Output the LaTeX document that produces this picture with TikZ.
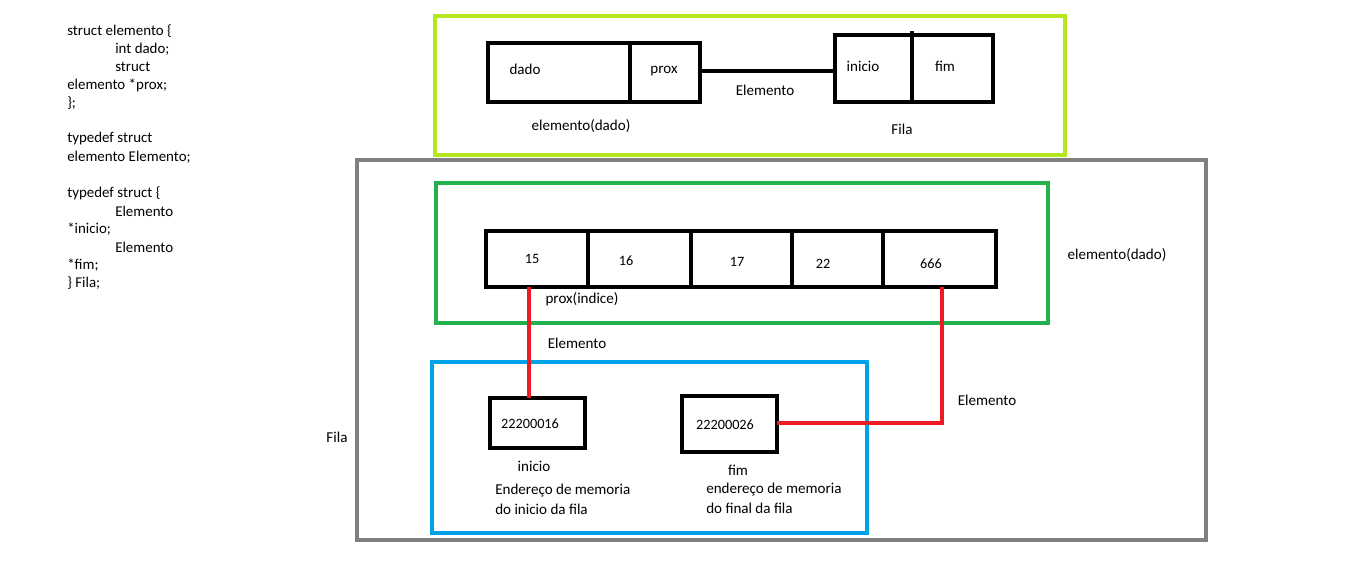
\documentclass[tikz,border=0pt]{standalone}
\usepackage{fontspec}
\setmainfont{Carlito}
\definecolor{lime}{HTML}{B5E61D}
\definecolor{pgreen}{HTML}{22B14C}
\definecolor{pblue}{HTML}{00A2E8}
\definecolor{pred}{HTML}{ED1C24}
\definecolor{pgray}{HTML}{7F7F7F}
\newcommand\pxrect[6]{\node[#6, minimum width={(#4-#2)*0.75pt}, minimum height={(#5-#3)*0.75pt}] (#1) at ({(#2+#4)/2},{(#3+#5)/2}) {};}
\begin{document}
\begin{tikzpicture}[x=0.75pt,y=-0.75pt,
  frame/.style={draw, line width=3pt, inner sep=0pt, outer sep=0pt},
  cell/.style={draw=black, line width=3.6pt, inner sep=0pt, outer sep=0pt},
  txt/.style={inner sep=0pt, font=\fontsize{11.3}{13}\selectfont},
  num/.style={inner sep=0pt, font=\fontsize{10.7}{12}\selectfont},
  code/.style={inner sep=0pt, anchor=west, font=\fontsize{11.2}{13}\selectfont},
  redline/.style={draw=pred, line width=3pt},
  blackline/.style={draw=black, line width=3.6pt}]
\useasboundingbox (0,0) rectangle (1358,561);
% code listing
\node[code] (l1) at (67,31) {struct elemento \{};
\node[code] (l2) at (115,49) {int dado;};
\node[code] (l3) at (115,67) {struct};
\node[code] (l4) at (67,85) {elemento *prox;};
\node[code] (l5) at (67,103) {\};};
\node[code] (l6) at (67,139) {typedef struct};
\node[code] (l7) at (67,157) {elemento Elemento;};
\node[code] (l8) at (67,193) {typedef struct \{};
\node[code] (l9) at (115,211) {Elemento};
\node[code] (l10) at (67,229) {*inicio;};
\node[code] (l11) at (115,247) {Elemento};
\node[code] (l12) at (67,265) {*fim;};
\node[code] (l13) at (67,283) {\} Fila;};
% frames
\pxrect{limebox}{435}{16}{1065}{155}{frame, draw=lime}
\pxrect{graybox}{357}{160}{1206}{540}{frame, draw=pgray}
\pxrect{greenbox}{436}{183}{1048}{323}{frame, draw=pgreen}
\pxrect{bluebox}{432}{362}{867}{533}{frame, draw=pblue}
% top schematic
\pxrect{dadocell}{488}{43}{630}{102}{cell}
\pxrect{proxcell}{630}{43}{700}{102}{cell}
\pxrect{inicell}{835}{35}{912}{102}{cell}
\pxrect{fimcell}{912}{35}{993}{102}{cell}
\draw[blackline] (fimcell.north west) -- ++(0,-4);
\draw[blackline] (proxcell.east |- 0,71) -- (inicell.west |- 0,71);
\node[txt] (tdado) at (525,69) {dado};
\node[txt] (tprox) at (664,71) {prox};
\node[txt] (tini) at (863,66) {inicio};
\node[txt] (tfim) at (945,66) {fim};
\node[txt] (telem) at (765,90) {Elemento};
\node[txt] (telemdado) at (581,126) {elemento(dado)};
\node[txt] (tfila) at (902,129) {Fila};
% array
\pxrect{c15}{486}{231}{588}{287}{cell}
\pxrect{c16}{588}{231}{691}{287}{cell}
\pxrect{c17}{691}{231}{792}{287}{cell}
\pxrect{c22}{792}{231}{883}{287}{cell}
\pxrect{c666}{883}{231}{996}{287}{cell}
\node[num] (n15) at (532,259) {15};
\node[num] (n16) at (626,261) {16};
\node[num] (n17) at (737,262) {17};
\node[num] (n22) at (823,264) {22};
\node[num] (n666) at (931,264) {666};
\node[txt] (tproxind) at (582,299) {prox(indice)};
\node[txt] (telemdado2) at (1117,255) {elemento(dado)};
\node[txt] (telem2) at (577,343) {Elemento};
\node[txt] (telem3) at (987,400) {Elemento};
\node[txt] (tfila2) at (337,437) {Fila};
% address boxes
\pxrect{inibox}{490}{398}{585}{448}{cell}
\pxrect{fimbox}{682}{396}{777}{452}{cell}
\node[num] (a1) at (530,424) {22200016};
\node[num] (a2) at (725,425) {22200026};
\node[txt] (tinicio) at (534,466) {inicio};
\node[txt, anchor=west] (tend1) at (495,491) {Endereço de memoria};
\node[txt, anchor=west] (tend2) at (495,509) {do inicio da fila};
\node[txt] (tfim2) at (738,470) {fim};
\node[txt, anchor=west] (tend3) at (706,490) {endereço de memoria};
\node[txt, anchor=west] (tend4) at (706,508) {do final da fila};
% red connectors
\coordinate (r1) at (529,287);
\draw[redline] (r1) -- (r1 |- inibox.north);
\coordinate (r2) at (942,287);
\draw[redline] (fimbox.east |- 0,423) -| (r2);
\end{tikzpicture}
\end{document}
